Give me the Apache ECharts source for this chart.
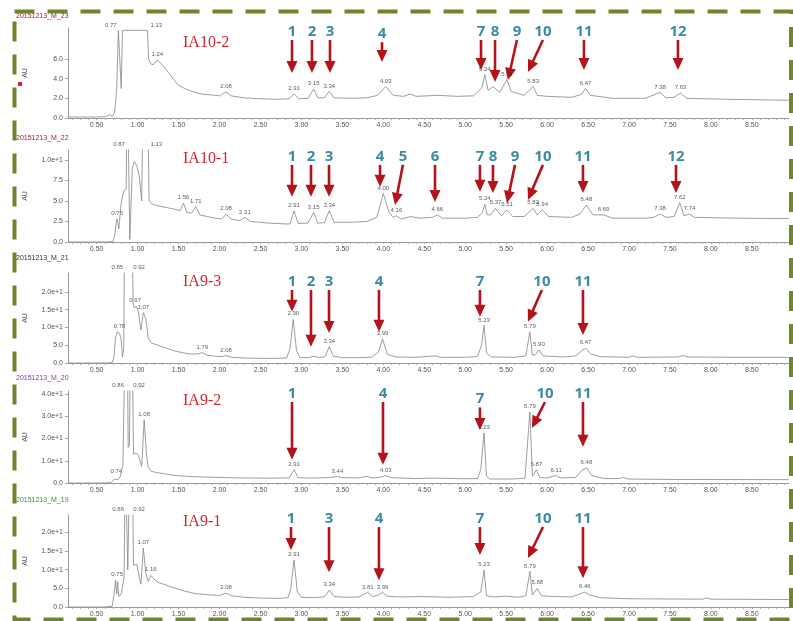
<!DOCTYPE html>
<html>
<head>
<meta charset="utf-8">
<title>Chromatograms IA9 / IA10</title>
<script src="https://cdn.jsdelivr.net/npm/echarts@6/dist/echarts.min.js"></script>
<style>
  html, body { margin: 0; padding: 0; background: #fff; }
  #chart { width: 793px; height: 621px; }
</style>
</head>
<body>
<div id="chart"></div>
<script>
// ---- data ----
var fileNames = ['20151213_M_23', '20151213_M_22', '20151213_M_21', '20151213_M_20', '20151213_M_19'];
var sampleNames = ['IA10-2', 'IA10-1', 'IA9-3', 'IA9-2', 'IA9-1'];

var xTickLabels = [0.5, 1.0, 1.5, 2.0, 2.5, 3.0, 3.5, 4.0, 4.5, 5.0, 5.5, 6.0, 6.5, 7.0, 7.5, 8.0, 8.5];

var yTicks1 = [0, 2, 4, 6];
var yTicks2 = [0, 2.5, 5, 7.5, 10];
var yTicks3 = [0, 5, 10, 15, 20];
var yTicks4 = [0, 10, 20, 30, 40];
var yTicks5 = [0, 5, 10, 15, 20];

// chromatogram traces [time (min), AU]
var trace1 = [[0.15,0.1],[0.5,0.1],[0.62,0.15],[0.66,0.35],[0.69,0.15],[0.72,0.6],[0.745,3.0],[0.765,8.9],[0.785,8.9],[0.80,3.0],[0.815,8.9],[0.9,8.9],[1.0,8.9],[1.12,8.9],[1.135,6.0],[1.16,5.5],[1.19,5.4],[1.24,5.9],[1.3,5.4],[1.38,4.6],[1.45,3.8],[1.5,3.3],[1.55,3.1],[1.6,2.9],[1.7,2.6],[1.8,2.4],[1.9,2.35],[2.0,2.25],[2.08,2.65],[2.14,2.25],[2.3,2.05],[2.5,1.95],[2.7,1.9],[2.85,1.95],[2.91,2.45],[2.97,1.95],[3.08,2.0],[3.15,2.95],[3.2,2.05],[3.28,2.05],[3.34,2.7],[3.4,2.05],[3.6,2.0],[3.8,2.05],[3.93,2.3],[4.03,3.2],[4.12,2.3],[4.25,2.2],[4.33,2.45],[4.4,2.2],[4.67,2.3],[4.9,2.2],[5.1,2.25],[5.2,3.0],[5.24,4.4],[5.28,2.8],[5.34,3.2],[5.42,2.6],[5.51,3.9],[5.56,2.7],[5.72,2.3],[5.83,3.2],[5.88,2.3],[6.0,2.2],[6.3,2.1],[6.42,2.4],[6.47,3.0],[6.53,2.3],[6.8,2.0],[7.2,2.0],[7.38,2.6],[7.45,2.05],[7.55,2.1],[7.63,2.55],[7.7,2.0],[8.2,1.9],[8.95,1.8]];
var trace2 = [[0.15,0.0],[0.6,0.0],[0.70,0.05],[0.72,0.8],[0.74,2.4],[0.75,2.8],[0.76,2.2],[0.77,1.6],[0.78,2.6],[0.80,4.8],[0.83,6.2],[0.86,6.4],[0.875,20],[0.895,20],[0.905,0.3],[0.925,0.3],[0.935,9.0],[0.96,9.8],[0.99,9.3],[1.02,8.0],[1.05,5.0],[1.07,20],[1.12,20],[1.14,5.0],[1.18,4.6],[1.25,4.4],[1.35,4.2],[1.45,4.0],[1.52,3.8],[1.56,4.75],[1.6,3.6],[1.66,3.5],[1.71,4.3],[1.76,3.3],[1.85,3.1],[1.95,2.9],[2.03,2.8],[2.08,3.4],[2.14,2.8],[2.25,2.6],[2.31,3.0],[2.38,2.5],[2.6,2.3],[2.8,2.2],[2.86,2.2],[2.91,3.8],[2.96,2.25],[3.08,2.3],[3.15,3.6],[3.2,2.3],[3.28,2.35],[3.34,3.8],[3.4,2.4],[3.6,2.4],[3.8,2.5],[3.92,3.0],[4.0,5.9],[4.07,3.6],[4.12,3.0],[4.16,3.2],[4.22,2.8],[4.33,3.1],[4.45,2.9],[4.6,3.0],[4.66,3.3],[4.72,2.9],[5.0,2.9],[5.15,3.0],[5.21,3.6],[5.24,4.6],[5.27,3.3],[5.31,3.3],[5.37,4.1],[5.44,3.2],[5.51,3.9],[5.58,3.1],[5.72,3.1],[5.83,4.1],[5.88,3.3],[5.94,3.9],[6.02,3.1],[6.3,3.0],[6.4,3.4],[6.48,4.5],[6.56,3.3],[6.69,3.3],[6.8,2.9],[7.2,2.9],[7.3,3.0],[7.38,3.4],[7.45,3.0],[7.55,3.1],[7.62,4.8],[7.67,3.2],[7.74,3.4],[7.8,3.0],[8.3,2.9],[8.95,2.85]];
var trace3 = [[0.15,0],[0.6,0],[0.69,0.1],[0.71,1.5],[0.73,7.0],[0.75,8.8],[0.78,8.3],[0.80,6.5],[0.815,1.8],[0.83,4],[0.85,60],[0.92,60],[0.945,17],[0.96,15.5],[0.985,16.0],[1.01,14.5],[1.04,9.3],[1.07,14.2],[1.10,12.5],[1.13,7.0],[1.17,5.6],[1.25,5.0],[1.35,4.2],[1.45,3.4],[1.55,2.9],[1.65,2.5],[1.74,2.6],[1.79,2.9],[1.85,2.2],[1.95,1.9],[2.03,1.8],[2.08,2.1],[2.15,1.6],[2.3,1.4],[2.5,1.3],[2.7,1.3],[2.82,1.4],[2.86,4.0],[2.90,12.3],[2.94,3.5],[2.98,1.6],[3.08,1.5],[3.15,1.9],[3.22,1.5],[3.29,1.8],[3.34,4.6],[3.39,1.9],[3.5,1.5],[3.7,1.5],[3.85,1.6],[3.94,3.0],[3.99,6.8],[4.05,2.4],[4.15,1.7],[4.4,1.6],[4.63,2.0],[4.7,1.6],[5.0,1.6],[5.15,1.8],[5.2,5.0],[5.23,10.6],[5.26,2.8],[5.32,1.7],[5.6,1.6],[5.74,2.0],[5.79,8.8],[5.82,2.2],[5.86,2.4],[5.90,3.7],[5.95,2.0],[6.2,1.7],[6.35,2.0],[6.42,3.4],[6.47,4.2],[6.53,2.6],[6.65,1.8],[7.0,1.6],[7.05,2.0],[7.1,1.6],[7.6,1.7],[7.66,2.1],[7.72,1.7],[8.3,1.6],[8.95,1.6]];
var trace4 = [[0.15,0],[0.6,0],[0.68,0.3],[0.72,1.8],[0.74,2.6],[0.76,1.5],[0.79,3],[0.82,8],[0.845,60],[0.875,60],[0.885,16],[0.90,17],[0.91,60],[0.935,60],[0.95,13],[0.98,13.5],[1.01,12.5],[1.05,7.5],[1.08,28.4],[1.11,12],[1.13,7],[1.17,5.2],[1.25,4.6],[1.35,4.0],[1.45,3.4],[1.6,3.0],[1.8,2.7],[2.0,2.5],[2.2,2.3],[2.5,2.2],[2.7,2.2],[2.85,2.3],[2.91,6.0],[2.96,2.4],[3.1,2.2],[3.3,2.4],[3.38,2.6],[3.44,2.9],[3.5,2.4],[3.7,2.3],[3.8,3.0],[3.85,2.3],[3.95,2.5],[4.03,3.3],[4.1,2.4],[4.4,2.0],[4.6,2.2],[5.0,1.9],[5.15,2.0],[5.19,6],[5.23,22.5],[5.26,3],[5.3,1.8],[5.6,1.8],[5.73,2.2],[5.79,32],[5.82,3],[5.84,4],[5.87,6],[5.91,2.5],[6.0,2.2],[6.07,3.0],[6.11,3.3],[6.16,2.3],[6.35,2.5],[6.42,5.5],[6.48,6.9],[6.55,3.2],[6.7,2.0],[6.88,2.0],[6.93,2.6],[6.98,1.8],[7.5,1.6],[8.95,1.5]];
var trace5 = [[0.15,0],[0.6,0],[0.69,0.2],[0.71,3],[0.73,7.2],[0.745,3.5],[0.755,6.8],[0.77,2.8],[0.80,3.5],[0.835,8],[0.85,40],[0.87,40],[0.88,10],[0.90,10],[0.905,40],[0.935,40],[0.95,11.2],[0.99,11.4],[1.02,8],[1.04,6.1],[1.07,15.8],[1.10,9],[1.13,6.8],[1.16,8.5],[1.20,7.5],[1.25,6.6],[1.32,6.1],[1.42,5.3],[1.55,4.4],[1.7,3.6],[1.85,3.3],[2.0,3.1],[2.08,3.7],[2.15,3.0],[2.3,2.6],[2.5,2.4],[2.7,2.3],[2.84,2.5],[2.87,5],[2.91,12.6],[2.95,4],[3.0,2.6],[3.15,2.5],[3.28,2.7],[3.34,4.5],[3.4,2.8],[3.55,2.6],[3.7,2.7],[3.77,3.5],[3.81,3.9],[3.87,2.8],[3.93,3.1],[3.99,3.9],[4.05,2.9],[4.2,2.7],[4.5,2.8],[4.8,2.6],[5.1,2.8],[5.19,4],[5.23,9.9],[5.26,3],[5.35,2.7],[5.5,2.9],[5.65,2.6],[5.74,3],[5.79,9.5],[5.82,3.2],[5.88,5.0],[5.93,3.0],[6.1,2.8],[6.3,2.7],[6.4,3.5],[6.46,4.0],[6.52,3.2],[6.65,2.5],[7.0,2.2],[7.9,2.1],[7.95,2.4],[8.0,2.1],[8.95,2.0]];

// labelled peaks [retention time, AU at label]
var peaks1 = [[0.77,8.9],[1.13,8.9],[1.24,5.9],[2.08,2.65],[2.91,2.45],[3.15,2.95],[3.34,2.7],[4.03,3.2],[5.24,4.4],[5.51,3.9],[5.83,3.2],[6.47,3.0],[7.38,2.6],[7.63,2.55]];
var peaks2 = [[0.75,2.8],[0.87,11.2],[1.13,11.2],[1.56,4.75],[1.71,4.3],[2.08,3.4],[2.31,3.0],[2.91,3.8],[3.15,3.6],[3.34,3.8],[4.00,5.9],[4.16,3.2],[4.66,3.3],[5.24,4.6],[5.37,4.1],[5.51,3.9],[5.83,4.1],[5.94,3.9],[6.48,4.5],[6.69,3.3],[7.38,3.4],[7.62,4.8],[7.74,3.4]];
var peaks3 = [[0.78,8.8],[0.85,25.35],[0.92,25.35],[0.97,16.0],[1.07,14.2],[1.79,2.9],[2.08,2.1],[2.90,12.3],[3.34,4.6],[3.99,6.8],[5.23,10.6],[5.79,8.8],[5.90,3.7],[6.47,4.2]];
var peaks4 = [[0.74,2.6],[0.86,41.4],[0.92,41.4],[1.08,28.4],[2.91,6.0],[3.44,2.9],[4.03,3.3],[5.23,22.5],[5.79,32],[5.87,6],[6.11,3.3],[6.48,6.9]];
var peaks5 = [[0.75,7.2],[0.86,24.65],[0.92,24.65],[1.07,15.8],[1.16,8.5],[2.08,3.7],[2.91,12.6],[3.34,4.5],[3.81,3.9],[3.99,3.9],[5.23,9.9],[5.79,9.5],[5.88,5.0],[6.46,4.0]];

// arrows [number, tail time, tail AU, tip time, tip AU]
var arrows1 = [['1',2.885,7.92,2.885,4.57],['2',3.129,7.92,3.129,4.57],['3',3.349,7.92,3.349,4.57],['4',3.984,7.7,3.984,5.69],['7',5.193,7.92,5.193,4.87],['8',5.364,7.92,5.364,3.65],['9',5.632,7.92,5.522,3.86],['10',5.949,7.92,5.766,4.67],['11',6.45,7.92,6.45,4.87],['12',7.598,7.92,7.598,4.87]];
var arrows2 = [['1',2.885,9.39,2.885,5.52],['2',3.117,9.39,3.117,5.52],['3',3.337,9.39,3.337,5.52],['4',3.96,9.39,3.96,6.74],['5',4.24,9.39,4.143,4.51],['6',4.631,9.39,4.631,4.88],['7',5.18,9.39,5.18,6.13],['8',5.339,9.39,5.339,5.98],['9',5.608,9.39,5.51,4.76],['10',5.949,9.39,5.766,5.12],['11',6.438,9.39,6.438,5.98],['12',7.574,9.39,7.574,5.98]];
var arrows3 = [['1',2.885,20.56,2.885,14.45],['2',3.117,20.56,3.117,4.59],['3',3.337,20.56,3.337,8.45],['4',3.947,20.56,3.947,8.82],['7',5.18,20.56,5.18,13.04],['10',5.937,20.56,5.766,11.63],['11',6.438,20.56,6.438,7.89]];
var arrows4 = [['1',2.885,36.46,2.885,10.45],['4',3.996,36.46,3.996,8.2],['7',5.18,34.0,5.18,23.9],['10',5.974,36.46,5.815,24.8],['11',6.438,36.46,6.438,16.3]];
var arrows5 = [['1',2.873,21.42,2.873,15.24],['3',3.337,21.42,3.337,9.33],['4',3.947,21.42,3.947,7.18],['7',5.18,21.42,5.18,13.9],['10',5.949,21.42,5.766,13.1],['11',6.438,21.42,6.438,7.72]];

// ---- layout ----
var traces = [trace1, trace2, trace3, trace4, trace5];
var peaks = [peaks1, peaks2, peaks3, peaks4, peaks5];
var arrows = [arrows1, arrows2, arrows3, arrows4, arrows5];
var yTicks = [yTicks1, yTicks2, yTicks3, yTicks4, yTicks5];
var yMax = [9.14, 11.2, 25.35, 41.4, 24.65];
var panelTop = [28, 150, 273, 391, 515];
var panelHeight = [90, 92, 90, 92, 92];
var fileColors = ['#a3222b', '#a3222b', '#333333', '#8b3d97', '#3d8b35'];
var fileY = [18, 140, 260, 380, 502];
var sampleY = [44, 160, 283, 402, 523];

var minorTicks = [];
for (var m = 2; m <= 89; m++) minorTicks.push(m / 10);

var chart = echarts.init(document.getElementById('chart'), null, { renderer: 'canvas' });

function yFmt(v) {
	return v < 10 ? v.toFixed(1) : v.toExponential(1);
}

// off-scale peaks: first label sits left of the peak, the others right
function peakItems(list, top) {
	var seen = 0;
	return list.map(function (p) {
		if (p[1] < 0.95 * top) return { value: p };
		var dx = seen++ === 0 ? -8 : 8;
		return { value: p, label: { offset: [dx, 0] } };
	});
}

var grids = [], xAxes = [], yAxes = [], series = [], graphics = [];

for (var i = 0; i < 5; i++) {
	grids.push({ left: 68, right: 4.3, top: panelTop[i], height: panelHeight[i] });

	xAxes.push({
		type: 'value', gridIndex: i, min: 0.15, max: 8.95,
		axisLine: { show: true, onZero: false, lineStyle: { color: '#9a9a9a', width: 1 } },
		axisTick: { show: true, customValues: minorTicks, length: 2, lineStyle: { color: '#aaa' } },
		axisLabel: {
			customValues: xTickLabels, fontSize: 7, color: '#555', margin: 4,
			fontFamily: 'Liberation Sans',
			formatter: function (v) { return v.toFixed(2); }
		},
		splitLine: { show: false }
	});

	yAxes.push({
		type: 'value', gridIndex: i, min: 0, max: yMax[i],
		name: 'AU', nameLocation: 'middle', nameGap: 39,
		nameTextStyle: { fontSize: 7, color: '#555', fontFamily: 'Liberation Sans' },
		axisLine: { show: true, lineStyle: { color: '#9a9a9a', width: 1 } },
		axisTick: { show: true, customValues: yTicks[i], length: 3, lineStyle: { color: '#aaa' } },
		axisLabel: {
			customValues: yTicks[i], fontSize: 7, color: '#555', margin: 5,
			fontFamily: 'Liberation Sans', formatter: yFmt
		},
		splitLine: { show: false }
	});

	series.push({
		type: 'line', xAxisIndex: i, yAxisIndex: i,
		data: traces[i], symbol: 'none', clip: true,
		lineStyle: { color: '#858585', width: 0.8 },
		silent: true
	});

	series.push({
		type: 'scatter', xAxisIndex: i, yAxisIndex: i,
		data: peakItems(peaks[i], yMax[i]), symbolSize: 1, clip: false,
		itemStyle: { color: 'rgba(0,0,0,0)' },
		label: {
			show: true, position: 'top', distance: 2,
			fontSize: 6, color: '#333', fontFamily: 'Liberation Sans',
			formatter: function (p) { return p.value[0].toFixed(2); }
		},
		silent: true
	});

	(function (list) {
		series.push({
			type: 'custom', xAxisIndex: i, yAxisIndex: i, clip: false,
			data: list.map(function (a) { return [a[1], a[2], a[3], a[4]]; }),
			renderItem: function (params, api) {
				var p0 = api.coord([api.value(0), api.value(1)]);
				var p1 = api.coord([api.value(2), api.value(3)]);
				var dx = p1[0] - p0[0], dy = p1[1] - p0[1];
				var len = Math.sqrt(dx * dx + dy * dy);
				var ux = dx / len, uy = dy / len;
				var headL = 12, headW = 5.5;
				var bx = p1[0] - ux * headL, by = p1[1] - uy * headL;
				return {
					type: 'group',
					children: [
						{ type: 'line', shape: { x1: p0[0], y1: p0[1], x2: bx + ux, y2: by + uy },
							style: { stroke: '#b3141c', lineWidth: 2.6 } },
						{ type: 'polygon',
							shape: { points: [p1, [bx - uy * headW, by + ux * headW], [bx + uy * headW, by - ux * headW]] },
							style: { fill: '#b3141c' } },
						{ type: 'text', x: p0[0], y: p0[1] - 1,
							style: { text: list[params.dataIndex][0], fill: '#3a8ba3',
								font: 'bold 15px "Open Sans"', align: 'center', verticalAlign: 'bottom' } }
					]
				};
			},
			silent: true
		});
	})(arrows[i]);

	graphics.push({
		type: 'text', left: 16, top: fileY[i] - 5,
		style: { text: fileNames[i], fill: fileColors[i], font: '7px "Liberation Sans"' }
	});
	graphics.push({
		type: 'text', left: 183, top: sampleY[i] - 9,
		style: { text: sampleNames[i], fill: '#d4262e', font: '16px "Liberation Serif"' }
	});
}

// small legend square next to the first AU label
graphics.push({ type: 'rect', shape: { x: 18, y: 82, width: 4, height: 4 }, style: { fill: '#e0202a' } });

// dashed olive frame
graphics.push({
	type: 'rect', z: 100,
	shape: { x: 14.5, y: 11.5, width: 776.5, height: 608 },
	style: { fill: 'none', stroke: '#71862c', lineWidth: 4, lineDash: [20, 13] }
});

chart.setOption({
	animation: false,
	backgroundColor: '#fff',
	grid: grids,
	xAxis: xAxes,
	yAxis: yAxes,
	series: series,
	graphic: graphics
});
</script>
</body>
</html>
